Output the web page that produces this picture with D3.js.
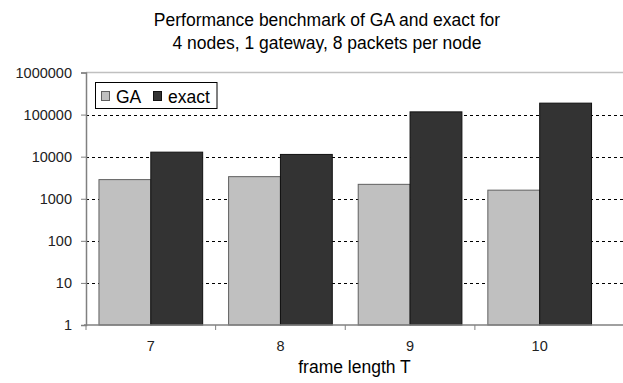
<!DOCTYPE html>
<html><head><meta charset="utf-8">
<script src="https://cdn.jsdelivr.net/npm/d3@7"></script>
<style>body{margin:0;background:#fff}svg{display:block}text{font-family:"Liberation Sans",Arial,sans-serif}</style>
</head><body><svg id="c" width="623" height="383"></svg>
<script>
const categories = ["7", "8", "9", "10"];
const seriesNames = ["GA", "exact"];
const gaValues = [2850, 3350, 2200, 1600];
const exactValues = [12800, 11300, 116000, 187000];
const yTicks = [1, 10, 100, 1000, 10000, 100000, 1000000];
const titleLines = ["Performance benchmark of GA and exact for", "4 nodes, 1 gateway, 8 packets per node"];
const xTitle = "frame length T";

const svg = d3.select("#c");
const mLeft = 86, mRight = 604.5, plotRight = 623, mTop = 72.5, mBottom = 325;
const colors = {GA: "#c0c0c0", exact: "#333333"};
const strokes = {GA: "#606060", exact: "#111111"};

const x = d3.scaleBand().domain(categories).range([mLeft, mRight]).paddingInner(0.2).paddingOuter(0.1);
const xs = d3.scaleBand().domain(seriesNames).range([0, x.bandwidth()]);
const y = d3.scaleLog().domain([1, 1e6]).range([mBottom, mTop]);

// top border
svg.append("line").attr("x1", mLeft).attr("x2", plotRight).attr("y1", mTop).attr("y2", mTop)
  .attr("stroke", "#c0c0c0").attr("stroke-width", 1.5);

// gridlines
svg.append("g").selectAll("line").data(yTicks.filter(d => d > 1 && d < 1e6)).join("line")
  .attr("x1", mLeft).attr("x2", plotRight)
  .attr("y1", d => Math.round(y(d)) + 0.5).attr("y2", d => Math.round(y(d)) + 0.5)
  .attr("stroke", "#000").attr("stroke-dasharray", "3,3");

// bars
const data = categories.map((c, i) => ({c, vals: [{s: "GA", v: gaValues[i]}, {s: "exact", v: exactValues[i]}]}));
const g = svg.append("g").selectAll("g").data(data).join("g")
  .attr("transform", d => `translate(${x(d.c)},0)`);
g.selectAll("rect").data(d => d.vals).join("rect")
  .attr("x", d => xs(d.s)).attr("width", xs.bandwidth())
  .attr("y", d => y(d.v)).attr("height", d => mBottom - y(d.v))
  .attr("fill", d => colors[d.s]).attr("stroke", d => strokes[d.s]).attr("stroke-width", 1);

// y axis
const yAxis = d3.axisLeft(y).tickValues(yTicks).tickFormat(d3.format("d")).tickSize(5).tickPadding(9);
const ya = svg.append("g").attr("transform", `translate(${mLeft},0)`).call(yAxis);
ya.select(".domain").attr("stroke", "#808080").attr("stroke-width", 1.5);
ya.selectAll(".tick line").attr("stroke", "#808080");
ya.selectAll("text").attr("font-size", "14.5px").attr("fill", "#222");

// x axis
const xa = svg.append("g").attr("transform", `translate(0,${mBottom})`);
xa.append("line").attr("x1", mLeft - 2).attr("x2", plotRight).attr("stroke", "#808080").attr("stroke-width", 1.5);
const step = (mRight - mLeft) / categories.length;
xa.selectAll("line.t").data(d3.range(categories.length)).join("line").attr("class", "t")
  .attr("x1", i => mLeft + i * step).attr("x2", i => mLeft + i * step).attr("y1", 0).attr("y2", 5)
  .attr("stroke", "#808080");
xa.selectAll("text").data(categories).join("text")
  .attr("x", d => x(d) + x.bandwidth() / 2).attr("y", 26).attr("text-anchor", "middle")
  .attr("font-size", "14.5px").attr("fill", "#222").text(d => d);

// titles
svg.append("g").selectAll("text").data(titleLines).join("text")
  .attr("x", 327).attr("y", (d, i) => 26 + i * 23).attr("text-anchor", "middle")
  .attr("font-size", "17.5px").attr("fill", "#000").text(d => d);
svg.append("text").attr("x", 354.5).attr("y", 373).attr("text-anchor", "middle")
  .attr("font-size", "17.5px").attr("fill", "#000").text(xTitle);

// legend
const lg = svg.append("g");
lg.append("rect").attr("x", 95.5).attr("y", 82.5).attr("width", 121.5).attr("height", 26)
  .attr("fill", "#fff").attr("stroke", "#000");
const items = [{s: "GA", x: 101, tx: 116}, {s: "exact", x: 153, tx: 168}];
items.forEach(it => {
  lg.append("rect").attr("x", it.x + 0.5).attr("y", 91.5).attr("width", 8).attr("height", 9)
    .attr("fill", colors[it.s]).attr("stroke", strokes[it.s]);
  lg.append("text").attr("x", it.tx).attr("y", 102.5).attr("font-size", "17.5px").attr("fill", "#000").text(it.s);
});
</script></body></html>
